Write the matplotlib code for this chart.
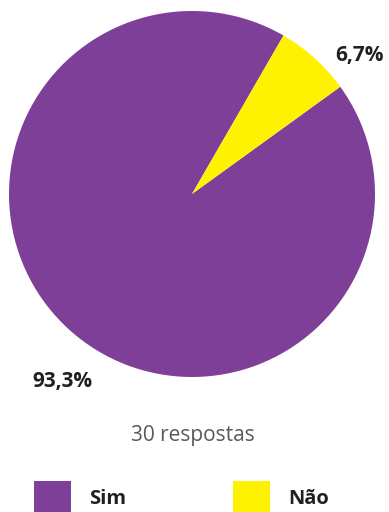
import matplotlib
matplotlib.use("Agg")
import matplotlib.pyplot as plt
from matplotlib.patches import Rectangle

categories = ["Sim", "Não"]
values = [93.3, 6.7]
colors = ["#7E3F98", "#FFF200"]
value_labels = ["93,3%", "6,7%"]
total_text = "30 respostas"

W, H = 389, 512
fig = plt.figure(figsize=(W / 100, H / 100), dpi=100)
ax = fig.add_axes([0, 0, 1, 1])

font = "Open Sans"
center = (192, H - 194)
radius = 183

ax.pie(values, colors=colors, startangle=60, counterclock=True,
       center=center, radius=radius, frame=True,
       wedgeprops=dict(linewidth=0))
ax.set_xlim(0, W)
ax.set_ylim(0, H)
ax.set_aspect("equal")
ax.axis("off")

# percentage labels
ax.text(62, H - 382, value_labels[0], ha="center", va="center",
        fontsize=15, fontweight="bold", color="#231F20", family=font)
ax.text(360, H - 56, value_labels[1], ha="center", va="center",
        fontsize=15, fontweight="bold", color="#231F20", family=font)

ax.text(193, H - 435, total_text, ha="center", va="center",
        fontsize=15, color="#58595B", family=font)

# legend
legend_x = [34, 233]
text_x = [89, 288]
for cat, col, lx, tx in zip(categories, colors, legend_x, text_x):
    ax.add_patch(Rectangle((lx, H - 512), 37, 31, facecolor=col, edgecolor="none"))
    ax.text(tx, H - 499, cat, ha="left", va="center", fontsize=14.5,
            fontweight="bold", color="#231F20", family=font)

fig.savefig("out.png", dpi=100)
